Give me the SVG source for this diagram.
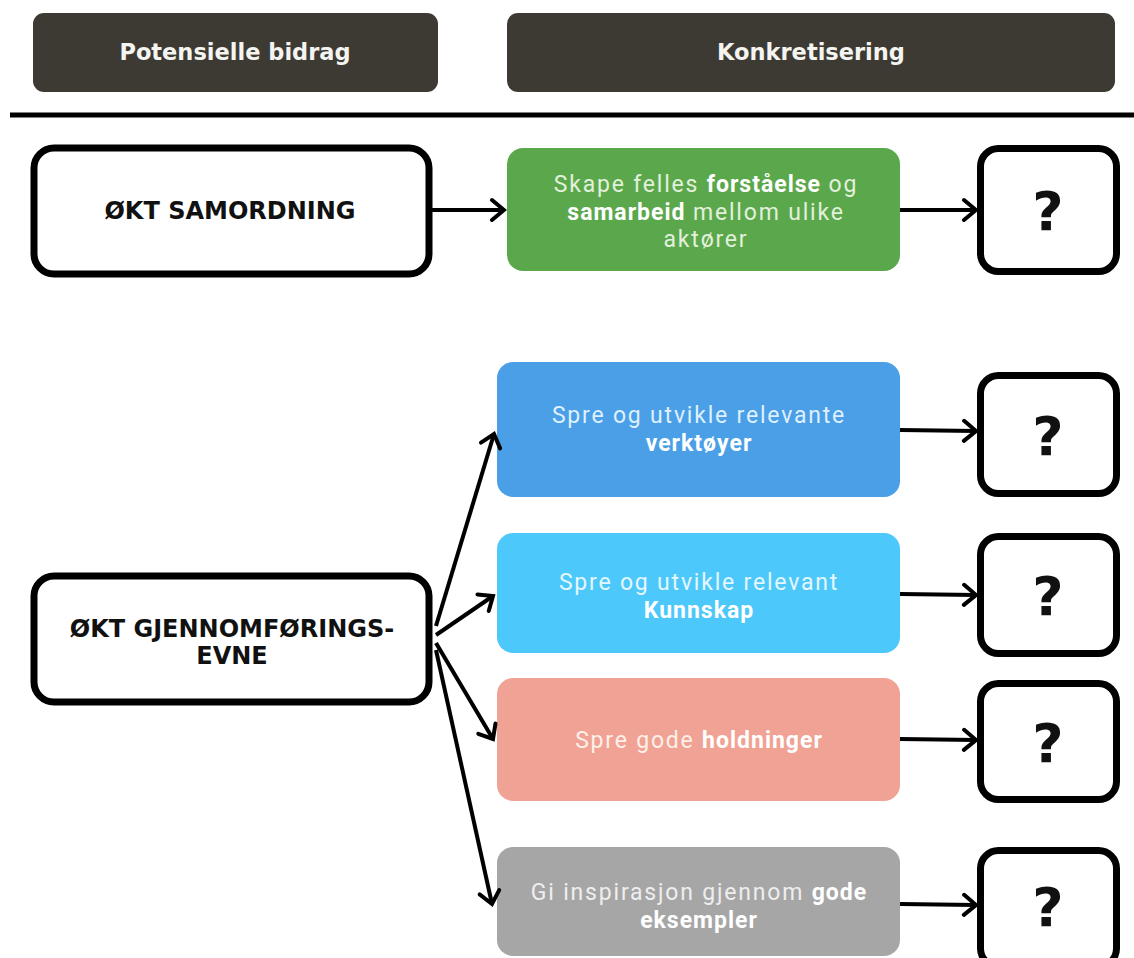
<svg xmlns="http://www.w3.org/2000/svg" width="1134" height="958" viewBox="0 0 1134 958">
  <defs>
    <marker id="open-arrow" viewBox="0 0 18 26" refX="15" refY="13" markerWidth="18" markerHeight="26" markerUnits="userSpaceOnUse" orient="auto">
      <path d="M3,3 L15,13 L3,23" fill="none" stroke="#000" stroke-width="4" stroke-linecap="round" stroke-linejoin="miter"/>
    </marker>
  </defs>
  <style>
    .head rect { fill: #3d3a33; }
    .head text { fill: #f4f4f0; font-family: "DejaVu Sans", Verdana, sans-serif; font-weight: bold; font-size: 22.5px; text-anchor: middle; }
    .outline rect { fill: #fff; stroke: #000; stroke-width: 7; }
    .outline text { fill: #111; font-family: "DejaVu Sans", Verdana, sans-serif; font-weight: bold; font-size: 24px; text-anchor: middle; }
    .qbox text { font-size: 54px; }
    .act text { font-family: Roboto, "Liberation Sans", sans-serif; font-size: 23px; letter-spacing: 1.8px; text-anchor: middle; }
    .act tspan.b { font-weight: bold; fill: #fff; letter-spacing: 1px; }
    .conn line { stroke: #000; stroke-width: 4; marker-end: url(#open-arrow); }
  </style>

  <!-- column headers -->
  <g id="header-bidrag" class="head">
    <rect x="33" y="13" width="405" height="79" rx="11"/>
    <text x="235" y="60">Potensielle bidrag</text>
  </g>
  <g id="header-konkretisering" class="head">
    <rect x="507" y="13" width="608" height="79" rx="11"/>
    <text x="811" y="60">Konkretisering</text>
  </g>
  <line x1="10" y1="115" x2="1134" y2="115" stroke="#000" stroke-width="5"/>

  <!-- potential contributions -->
  <g id="okt-samordning" class="outline">
    <rect x="34" y="148" width="395" height="126" rx="20"/>
    <text x="230" y="219">ØKT SAMORDNING</text>
  </g>
  <g id="okt-gjennomforingsevne" class="outline">
    <rect x="34" y="576" width="395" height="126" rx="20"/>
    <text x="232" y="637">ØKT GJENNOMFØRINGS-</text>
    <text x="232" y="664">EVNE</text>
  </g>

  <!-- concrete actions -->
  <g id="felles-forstaelse" class="act">
    <rect x="507" y="148" width="393" height="123" rx="16" fill="#5ba84c"/>
    <text x="706" y="192" fill="#e2f0dc">Skape felles <tspan class="b">forståelse</tspan> og</text>
    <text x="706" y="219.5" fill="#e2f0dc"><tspan class="b">samarbeid</tspan> mellom ulike</text>
    <text x="706" y="247" fill="#e2f0dc">aktører</text>
  </g>
  <g id="verktoyer" class="act">
    <rect x="497" y="362" width="403" height="135" rx="16" fill="#4a9fe6"/>
    <text x="699" y="423" fill="#dff0ff">Spre og utvikle relevante</text>
    <text x="699" y="451" fill="#dff0ff"><tspan class="b">verktøyer</tspan></text>
  </g>
  <g id="kunnskap" class="act">
    <rect x="497" y="533" width="403" height="120" rx="16" fill="#4dc8fa"/>
    <text x="699" y="590" fill="#e4f7ff">Spre og utvikle relevant</text>
    <text x="699" y="618" fill="#e4f7ff"><tspan class="b">Kunnskap</tspan></text>
  </g>
  <g id="holdninger" class="act">
    <rect x="497" y="678" width="403" height="123" rx="16" fill="#f0a394"/>
    <text x="699" y="748" fill="#fff0ea">Spre gode <tspan class="b">holdninger</tspan></text>
  </g>
  <g id="gode-eksempler" class="act">
    <rect x="497" y="847" width="403" height="109" rx="16" fill="#a6a6a6"/>
    <text x="699" y="900" fill="#eeeeee">Gi inspirasjon gjennom <tspan class="b">gode</tspan></text>
    <text x="699" y="928" fill="#eeeeee"><tspan class="b">eksempler</tspan></text>
  </g>

  <!-- open outcomes -->
  <g id="utfall-1" class="outline qbox">
    <rect x="980.5" y="148.5" width="136" height="123" rx="18"/>
    <text x="1048" y="230">?</text>
  </g>
  <g id="utfall-2" class="outline qbox">
    <rect x="980.5" y="375.5" width="136" height="118" rx="18"/>
    <text x="1048" y="455">?</text>
  </g>
  <g id="utfall-3" class="outline qbox">
    <rect x="980.5" y="536.5" width="136" height="117" rx="18"/>
    <text x="1048" y="615">?</text>
  </g>
  <g id="utfall-4" class="outline qbox">
    <rect x="980.5" y="683.5" width="136" height="116" rx="18"/>
    <text x="1048" y="762">?</text>
  </g>
  <g id="utfall-5" class="outline qbox">
    <rect x="980.5" y="850.5" width="136" height="116" rx="18"/>
    <text x="1048" y="926">?</text>
  </g>

  <!-- connectors -->
  <g id="connectors" class="conn">
    <line x1="432" y1="210" x2="504" y2="210"/>
    <line x1="900" y1="210" x2="976" y2="210"/>
    <line x1="436" y1="626" x2="494" y2="434"/>
    <line x1="436" y1="635" x2="493" y2="596"/>
    <line x1="436" y1="643" x2="493" y2="739"/>
    <line x1="436" y1="650" x2="492" y2="904"/>
    <line x1="900" y1="430" x2="976" y2="431"/>
    <line x1="900" y1="594" x2="976" y2="595"/>
    <line x1="900" y1="739" x2="976" y2="740"/>
    <line x1="900" y1="904" x2="976" y2="905"/>
  </g>
</svg>
